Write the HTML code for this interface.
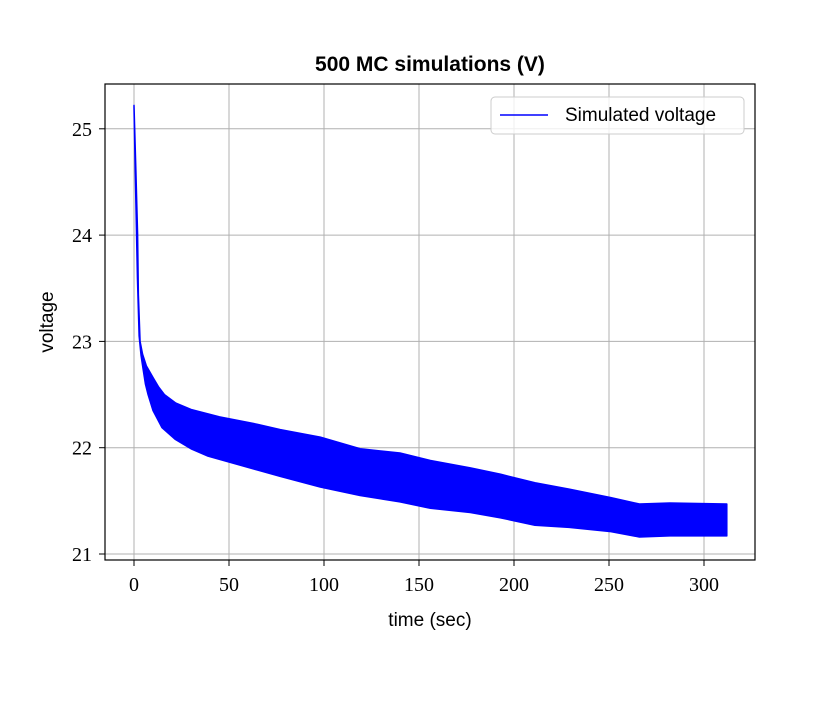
<!DOCTYPE html>
<html><head><meta charset="utf-8"><style>
body{margin:0;background:#fff}
svg text{font-family:"Liberation Sans",sans-serif}
.tk{font-family:"Liberation Serif",serif;font-size:20px}
</style></head><body>
<svg id="chart" width="840" height="700">
<rect width="840" height="700" fill="#fff"/>
<g id="grid"></g>
<g id="band"></g>
<rect x="105" y="84" width="650" height="476" fill="none" stroke="#000" stroke-width="1.2"/>
<g id="ticks"></g>
<text x="430" y="71" text-anchor="middle" font-size="21" font-weight="bold">500 MC simulations (V)</text>
<text x="430" y="626" text-anchor="middle" font-size="19">time (sec)</text>
<text transform="translate(53,322) rotate(-90)" text-anchor="middle" font-size="19">voltage</text>
<g>
<rect x="491" y="97" width="253" height="37" rx="4" fill="#fff" fill-opacity="0.8" stroke="#ccc"/>
<line x1="500" y1="115" x2="548" y2="115" stroke="#00f" stroke-width="1.5"/>
<text x="565" y="121" font-size="19">Simulated voltage</text>
</g>
</svg>
<script>
const upperTimes=[0,1,1.9,2.3,3.2,4.5,6.5,10,13,16,22,30,45,65,77,98,119,140,156,177,193,211,229,251,266,282,312];
const upper=[25.22,24.6,24.0,23.44,23.0,22.88,22.77,22.66,22.57,22.5,22.42,22.36,22.29,22.22,22.17,22.10,21.99,21.95,21.88,21.81,21.75,21.67,21.61,21.53,21.47,21.48,21.47];
const lowerTimes=[0,1,1.8,2.7,3.7,4.7,6,7.4,10,14.7,21.6,30,39,65,77,98,119,140,156,177,193,211,229,251,266,282,312];
const lower=[25.2,24.3,23.6,23.05,22.87,22.75,22.6,22.5,22.35,22.19,22.08,21.99,21.92,21.79,21.73,21.63,21.55,21.49,21.43,21.39,21.34,21.27,21.25,21.21,21.16,21.17,21.17];
const xTicks=[0,50,100,150,200,250,300];
const yTicks=[21,22,23,24,25];
const X=t=>134+t*1.9;
const Y=v=>554-(v-21)*106.3;
const NS="http://www.w3.org/2000/svg";
const grid=document.getElementById('grid'),ticks=document.getElementById('ticks'),band=document.getElementById('band');
function mk(tag,attrs,parent){const e=document.createElementNS(NS,tag);for(const k in attrs)e.setAttribute(k,attrs[k]);parent.appendChild(e);return e;}
xTicks.forEach(t=>{
 const g=mk('line',{x1:X(t),x2:X(t),y1:84,y2:560,stroke:'#b0b0b0','stroke-width':1},grid);
 
 
 mk('line',{x1:X(t),x2:X(t),y1:560,y2:566,stroke:'#000'},ticks);
 const l=mk('text',{x:X(t),y:591,'text-anchor':'middle',class:'tk'},ticks);l.textContent=t;
 
 
});
yTicks.forEach(v=>{
 const g=mk('line',{x1:105,x2:755,y1:Y(v),y2:Y(v),stroke:'#b0b0b0','stroke-width':1},grid);
 
 
 mk('line',{x1:99,x2:105,y1:Y(v),y2:Y(v),stroke:'#000'},ticks);
 const l=mk('text',{x:92,y:Y(v)+7,'text-anchor':'end',class:'tk'},ticks);l.textContent=v;
 
 
});
let pts=upperTimes.map((t,i)=>X(t)+','+Y(upper[i]));
for(let i=lowerTimes.length-1;i>=0;i--)pts.push(X(lowerTimes[i])+','+Y(lower[i]));
const p=mk('polygon',{points:pts.join(' '),fill:'#0000ff',stroke:'#0000ff','stroke-width':1.5,'stroke-linejoin':'round'},band);


</script>
</body></html>
